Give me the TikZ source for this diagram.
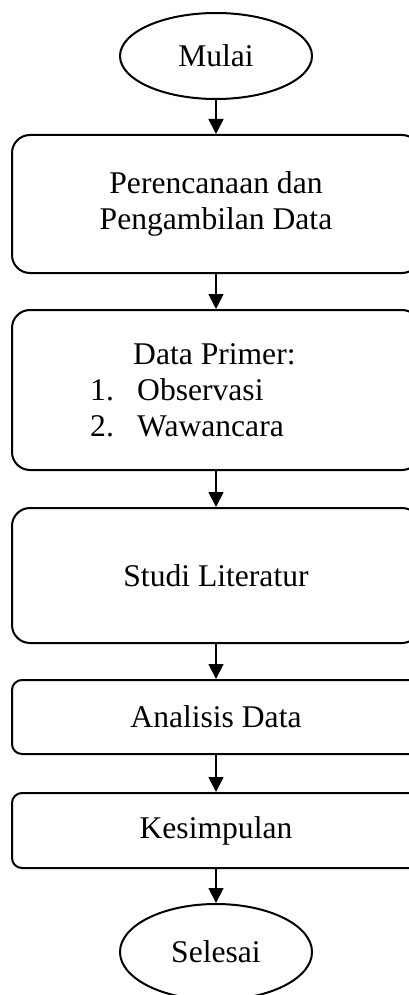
\documentclass[tikz,border=0pt]{standalone}
\usepackage{fontspec}
\setmainfont{Liberation Serif}
\usetikzlibrary{arrows.meta,shapes.geometric}

\begin{document}
\begin{tikzpicture}[x=1pt,y=-1pt,>={Triangle[width=15pt,length=15pt]},line join=round,
  font=\fontsize{31.6}{36}\selectfont,
  kotak/.style={draw,line width=2pt,rounded corners=18pt,minimum width=408pt,inner sep=0pt,align=center},
  kotakkecil/.style={kotak,rounded corners=10pt},
  oval/.style={draw,ellipse,line width=2pt,minimum width=192pt,minimum height=86pt,inner sep=0pt},
  panah/.style={->,line width=1.8pt}]
  \clip (0,0) rectangle (409,995);

  \node[oval] (mulai) at (216,56) {Mulai};
  \node[kotak,minimum height=138pt] (rencana) at (216,204) {Perencanaan dan\\Pengambilan Data};
  \node[kotak,minimum height=160pt] (primer) at (216,390) {};
  \node[anchor=west,inner sep=0pt,align=left] (primerisi) at (90,390)
    {\hspace*{43pt}Data Primer:\\\makebox[47pt][l]{1.}Observasi\\\makebox[47pt][l]{2.}Wawancara};
  \node[kotak,minimum height=135pt] (studi) at (216,575.5) {Studi Literatur};
  \node[kotakkecil,minimum height=74pt] (analisis) at (216,717) {Analisis Data};
  \node[kotakkecil,minimum height=75pt] (simpulan) at (216,830.5) {Kesimpulan};
  \node[oval,minimum height=96pt] (selesai) at (216,952) {Selesai};

  \draw[panah] (mulai.south) -- (rencana.north);
  \draw[panah] (rencana.south) -- (primer.north);
  \draw[panah] (primer.south) -- (studi.north);
  \draw[panah] (studi.south) -- (analisis.north);
  \draw[panah] (analisis.south) -- (simpulan.north);
  \draw[panah] (simpulan.south) -- (selesai.north);
\end{tikzpicture}
\end{document}
